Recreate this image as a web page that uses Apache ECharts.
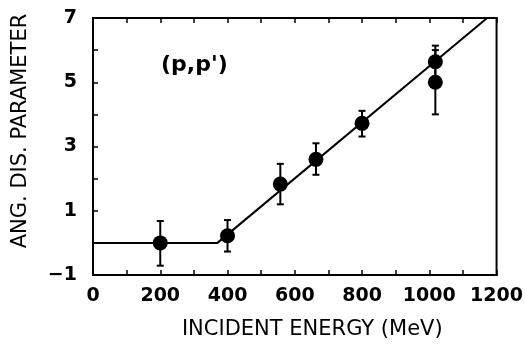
<!DOCTYPE html>
<html><head><meta charset="utf-8">
<script src="https://cdn.jsdelivr.net/npm/echarts@6/dist/echarts.min.js"></script>
<style>html,body{margin:0;padding:0;background:#fff;}#c{width:526px;height:347px;}</style>
</head><body><div id="c"></div>
<script>
// Data
const energy = [200, 400, 557, 663, 800, 1018, 1018];
const param = [0.0, 0.22, 1.83, 2.6, 3.72, 5.64, 5.0];
const errLow = [-0.71, -0.27, 1.20, 2.12, 3.31, 5.14, 4.0];
const errHigh = [0.68, 0.71, 2.46, 3.10, 4.11, 6.14, 6.0];
const fitX = [0, 370, 1172];
const fitY = [0, 0, 7];
const xTicks = [0, 200, 400, 600, 800, 1000, 1200];
const yTicks = [-1, 1, 3, 5, 7];
const xTitle = 'INCIDENT ENERGY (MeV)';
const yTitle = 'ANG. DIS. PARAMETER';
const annotation = "(p,p')";

const chart = echarts.init(document.getElementById('c'));
const FONT = 'DejaVu Sans';
const pts = energy.map((x, i) => [x, param[i]]);
const errs = energy.map((x, i) => [x, errLow[i], errHigh[i]]);
const fit = fitX.map((x, i) => [x, fitY[i]]);

chart.setOption({
  animation: false,
  grid: { left: 93, right: 28, top: 18, bottom: 72, show: true, borderColor: '#000', borderWidth: 2, backgroundColor: 'transparent' },
  xAxis: [{
    type: 'value', min: xTicks[0], max: xTicks[xTicks.length - 1], interval: 200,
    position: 'bottom',
    axisLine: { show: true, onZero: false, lineStyle: { color: '#000', width: 2 } },
    axisTick: { show: true, inside: true, length: 5, lineStyle: { color: '#000', width: 1.5 } },
    minorTick: { show: true, splitNumber: 2, length: 5, lineStyle: { color: '#000', width: 1.5 } },
    splitLine: { show: false },
    axisLabel: { margin: 12, color: '#000', fontFamily: FONT, fontWeight: 'bold', fontSize: 19, showMinLabel: true, showMaxLabel: true,
      formatter: v => String(v) },
    name: xTitle, nameLocation: 'middle', nameGap: 44,
    nameTextStyle: { color: '#000', fontFamily: FONT, fontSize: 21, padding: [0, 0, 0, 35] }
  }, {
    type: 'value', min: xTicks[0], max: xTicks[xTicks.length - 1], interval: 200,
    position: 'top',
    axisLine: { show: true, onZero: false, lineStyle: { color: '#000', width: 2 } },
    axisTick: { show: true, inside: true, length: 5, lineStyle: { color: '#000', width: 1.5 } },
    minorTick: { show: true, splitNumber: 2, length: 5, lineStyle: { color: '#000', width: 1.5 } },
    splitLine: { show: false },
    axisLabel: { show: false }
  }],
  yAxis: [{
    type: 'value', min: yTicks[0], max: yTicks[yTicks.length - 1], interval: 2,
    axisLine: { show: true, onZero: false, lineStyle: { color: '#000', width: 2 } },
    axisTick: { show: true, inside: true, length: 5, lineStyle: { color: '#000', width: 1.5 } },
    minorTick: { show: true, splitNumber: 2, length: 5, lineStyle: { color: '#000', width: 1.5 } },
    splitLine: { show: false },
    axisLabel: { margin: 16, color: '#000', fontFamily: FONT, fontWeight: 'bold', fontSize: 19,
      formatter: v => (v < 0 ? '\u2212' + Math.abs(v) : String(v)) },
    name: yTitle, nameLocation: 'middle', nameGap: 62,
    nameTextStyle: { color: '#000', fontFamily: FONT, fontSize: 21, padding: [0, 0, 0, 31] }
  }],
  graphic: [{
    type: 'text', left: 161, top: 54,
    style: { text: annotation, fill: '#000', font: 'bold 22px "DejaVu Sans"' }
  }],
  series: [{
    type: 'line', data: fit, showSymbol: false, symbol: 'none',
    lineStyle: { color: '#000', width: 2 }, clip: true, z: 2
  }, {
    type: 'custom', data: errs, z: 3,
    renderItem: (params, api) => {
      const x = api.value(0);
      const lo = api.coord([x, api.value(1)]);
      const hi = api.coord([x, api.value(2)]);
      const w = 3.5;
      const st = { stroke: '#000', lineWidth: 2 };
      return { type: 'group', children: [
        { type: 'line', shape: { x1: lo[0], y1: lo[1], x2: hi[0], y2: hi[1] }, style: st },
        { type: 'line', shape: { x1: lo[0] - w, y1: lo[1], x2: lo[0] + w, y2: lo[1] }, style: st },
        { type: 'line', shape: { x1: hi[0] - w, y1: hi[1], x2: hi[0] + w, y2: hi[1] }, style: st }
      ]};
    }
  }, {
    type: 'scatter', data: pts, symbol: 'circle', symbolSize: 15,
    itemStyle: { color: '#000', opacity: 1 }, z: 4
  }]
});
</script></body></html>
